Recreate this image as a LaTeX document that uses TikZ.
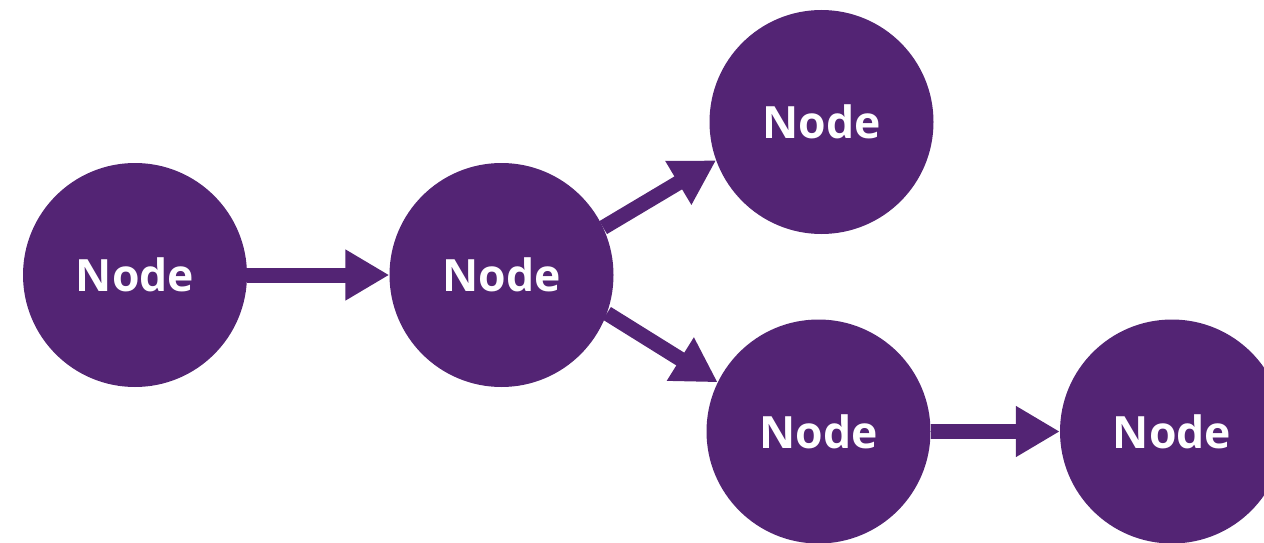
\documentclass[tikz,border=0pt]{standalone}
\usepackage{fontspec}
\setmainfont{Open Sans}
\usetikzlibrary{arrows.meta}
\definecolor{nodepurple}{RGB}{83,36,116}
\begin{document}
\begin{tikzpicture}[x=1pt,y=1pt,
  bubble/.style={circle,fill=nodepurple,draw=none,minimum size=224pt,inner sep=0pt,
    text=white,font=\fontsize{44.5}{48}\selectfont\bfseries},
  link/.style={draw=nodepurple,line width=15pt,-{Triangle[length=44pt,width=48pt]}}]
\useasboundingbox (0,0) rectangle (1264,-543);
\node[bubble] (a) at (135,-275) {Node};
\node[bubble] (b) at (501.5,-275) {Node};
\node[bubble] (c) at (821.5,-122) {Node};
\node[bubble] (d) at (818.5,-431.5) {Node};
\node[bubble] (e) at (1172,-431.5) {Node};
\draw[link] (a.east) -- (b.west);
\draw[link] (b.25) -- (c.200);
\draw[link] (b.-20) -- (d.154);
\draw[link] (d.east) -- (e.west);
\end{tikzpicture}
\end{document}
